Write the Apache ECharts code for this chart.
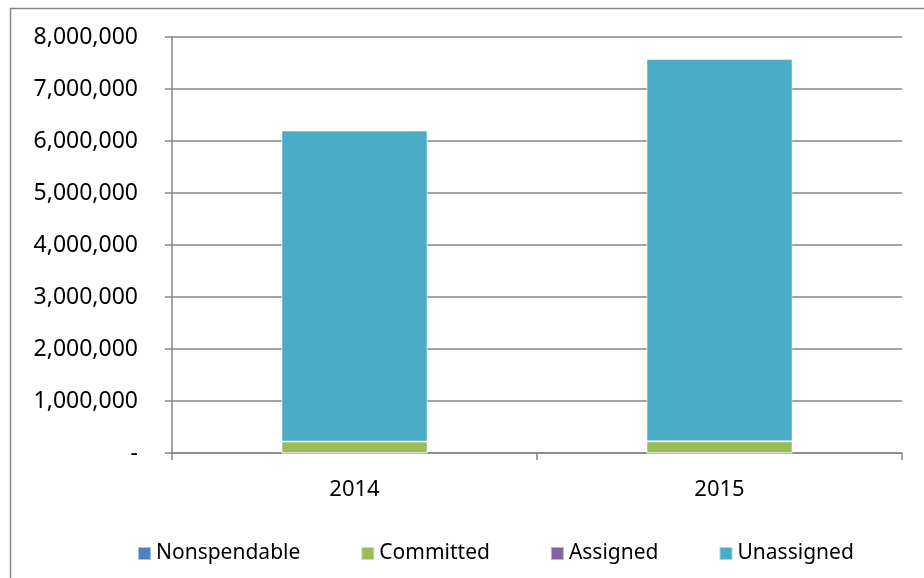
<!DOCTYPE html>
<html>
<head>
<meta charset="utf-8">
<script src="https://cdn.jsdelivr.net/npm/echarts@6/dist/echarts.min.js"></script>
<style>
  html, body { margin: 0; padding: 0; background: #fff; }
  #chart { width: 924px; height: 578px; }
</style>
</head>
<body>
<div id="chart"></div>
<script>
// data
const years = ['2014', '2015']
const seriesNames = ['Nonspendable', 'Committed', 'Assigned', 'Unassigned']
const nonspendable = [0, 0]
const committed = [220000, 225000]
const assigned = [0, 0]
const unassigned = [5980000, 7350000]
const yTicks = { min: 0, max: 8000000, interval: 1000000 }

const colors = ['#4F81BD', '#9BBB59', '#8064A2', '#4BACC6']
const lineColor = '#868686'
const font = 'Noto Sans'

const chart = echarts.init(document.getElementById('chart'))

const values = [nonspendable, committed, assigned, unassigned]

const option = {
  animation: false,
  color: colors,
  graphic: [
    {
      // outer chart border (runs past right/bottom edge)
      type: 'rect',
      shape: { x: 10.5, y: 8.5, width: 960, height: 620 },
      style: { fill: 'none', stroke: lineColor, lineWidth: 1.5 },
      silent: true
    }
  ],
  grid: { left: 172, right: 22, top: 37, bottom: 125 },
  legend: {
    left: 132,
    top: 538,
    itemWidth: 13,
    itemHeight: 13,
    itemGap: 60,
    icon: 'rect',
    textStyle: { fontFamily: font, fontSize: 21, color: '#000' },
    data: seriesNames
  },
  xAxis: {
    type: 'category',
    data: years,
    axisLine: { lineStyle: { color: lineColor, width: 1.5 } },
    axisTick: { show: true, length: 7, lineStyle: { color: lineColor, width: 1.5 } },
    axisLabel: { fontFamily: font, fontSize: 22, color: '#000', margin: 26 }
  },
  yAxis: {
    type: 'value',
    min: yTicks.min,
    max: yTicks.max,
    interval: yTicks.interval,
    axisLine: { show: true, lineStyle: { color: lineColor, width: 1.5 } },
    axisTick: { show: true, length: 7, lineStyle: { color: lineColor, width: 1.5 } },
    splitLine: { lineStyle: { color: lineColor, width: 1.5 } },
    axisLabel: {
      fontFamily: font,
      fontSize: 23,
      color: '#000',
      margin: 34,
      formatter: (v) => (v === 0 ? '-' : v.toLocaleString('en-US'))
    }
  },
  series: seriesNames.map((name, i) => ({
    name: name,
    type: 'bar',
    stack: 'total',
    barWidth: '40%',
    data: values[i],
    itemStyle: { borderColor: 'rgba(255,255,255,0.5)', borderWidth: 1 }
  }))
}

chart.setOption(option)
</script>
</body>
</html>
